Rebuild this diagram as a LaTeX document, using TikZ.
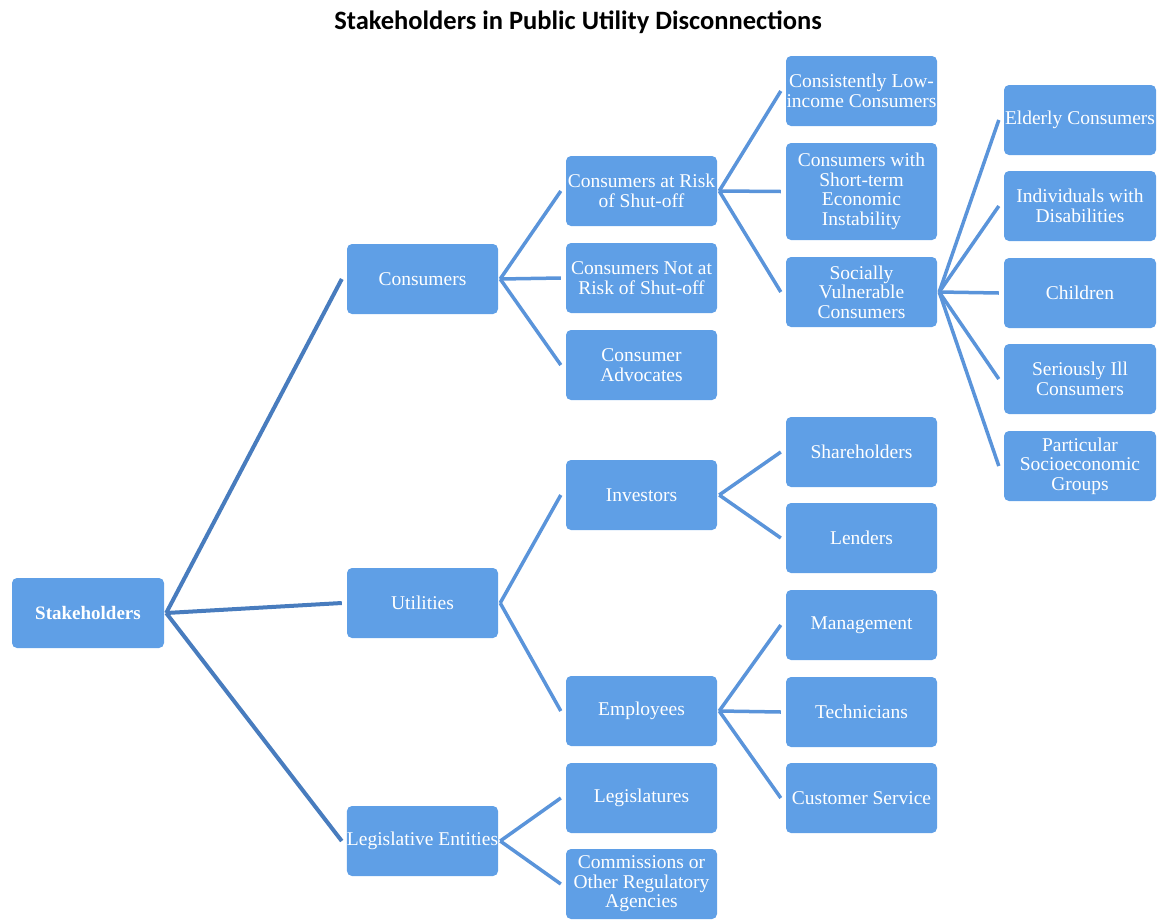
\documentclass[tikz,border=0pt]{standalone}
\usepackage{fontspec}
\setmainfont{Liberation Serif}
\newfontfamily\titlefont{Carlito}
\definecolor{boxblue}{RGB}{95,159,230}
\definecolor{lineA}{RGB}{72,124,190}
\definecolor{lineB}{RGB}{90,148,218}
\tikzset{
  box/.style={fill=boxblue, rounded corners=5pt, minimum width=151pt, minimum height=70pt,
    align=center, inner sep=0pt, text=white,
    font=\fontsize{19.5}{19.5}\selectfont},
  lnA/.style={draw=lineA, line width=4pt},
  lnB/.style={draw=lineB, line width=3.5pt},
}
\newcommand{\conn}[3]{\draw[#1] ([xshift=2pt]#2.east) -- ([xshift=-5pt]#3.west);}
\begin{document}
\begin{tikzpicture}[x=1pt,y=-1pt]
\useasboundingbox (0,0) rectangle (1159,919);
\node[font=\titlefont\bfseries\fontsize{26.5}{30}\selectfont] (title) at (578,22) {Stakeholders in Public Utility Disconnections};

% level 0
\node[box, minimum width=152pt, font=\bfseries\fontsize{19}{19.5}\selectfont] (stake) at (88,613) {Stakeholders};
% level 1
\node[box] (cons) at (422.5,279) {Consumers};
\node[box] (util) at (422.5,603) {Utilities};
\node[box] (legis) at (422.5,841) {Legislative Entities};
% level 2
\node[box] (risk) at (641.5,191) {Consumers at Risk\\of Shut-off};
\node[box] (norisk) at (641.5,278) {Consumers Not at\\Risk of Shut-off};
\node[box] (adv) at (641.5,365) {Consumer\\Advocates};
\node[box] (inv) at (641.5,495) {Investors};
\node[box] (emp) at (641.5,711) {Employees};
\node[box] (legs) at (641.5,798) {Legislatures};
\node[box] (comm) at (641.5,884) {Commissions or\\Other Regulatory\\Agencies};
% level 3
\node[box] (low) at (861.5,91) {Consistently Low-\\income Consumers};
\node[box, minimum height=97pt] (short) at (861.5,191.5) {Consumers with\\Short-term\\Economic\\Instability};
\node[box] (soc) at (861.5,292) {Socially\\Vulnerable\\Consumers};
\node[box] (share) at (861.5,452) {Shareholders};
\node[box] (lend) at (861.5,538) {Lenders};
\node[box] (mgmt) at (861.5,625) {Management};
\node[box] (tech) at (861.5,712) {Technicians};
\node[box] (cust) at (861.5,798) {Customer Service};
% level 4
\node[box, minimum width=152pt] (eld) at (1080,120) {Elderly Consumers};
\node[box, minimum width=152pt] (dis) at (1080,206) {Individuals with\\Disabilities};
\node[box, minimum width=152pt] (child) at (1080,293) {Children};
\node[box, minimum width=152pt] (ill) at (1080,379) {Seriously Ill\\Consumers};
\node[box, minimum width=152pt] (part) at (1080,466) {Particular\\Socioeconomic\\Groups};

% connectors
\conn{lnA}{stake}{cons}
\conn{lnA}{stake}{util}
\conn{lnA}{stake}{legis}
\conn{lnB}{cons}{risk}
\conn{lnB}{cons}{norisk}
\conn{lnB}{cons}{adv}
\conn{lnB}{risk}{low}
\conn{lnB}{risk}{short}
\conn{lnB}{risk}{soc}
\conn{lnB}{soc}{eld}
\conn{lnB}{soc}{dis}
\conn{lnB}{soc}{child}
\conn{lnB}{soc}{ill}
\conn{lnB}{soc}{part}
\conn{lnB}{util}{inv}
\conn{lnB}{util}{emp}
\conn{lnB}{inv}{share}
\conn{lnB}{inv}{lend}
\conn{lnB}{emp}{mgmt}
\conn{lnB}{emp}{tech}
\conn{lnB}{emp}{cust}
\conn{lnB}{legis}{legs}
\conn{lnB}{legis}{comm}
\end{tikzpicture}
\end{document}
